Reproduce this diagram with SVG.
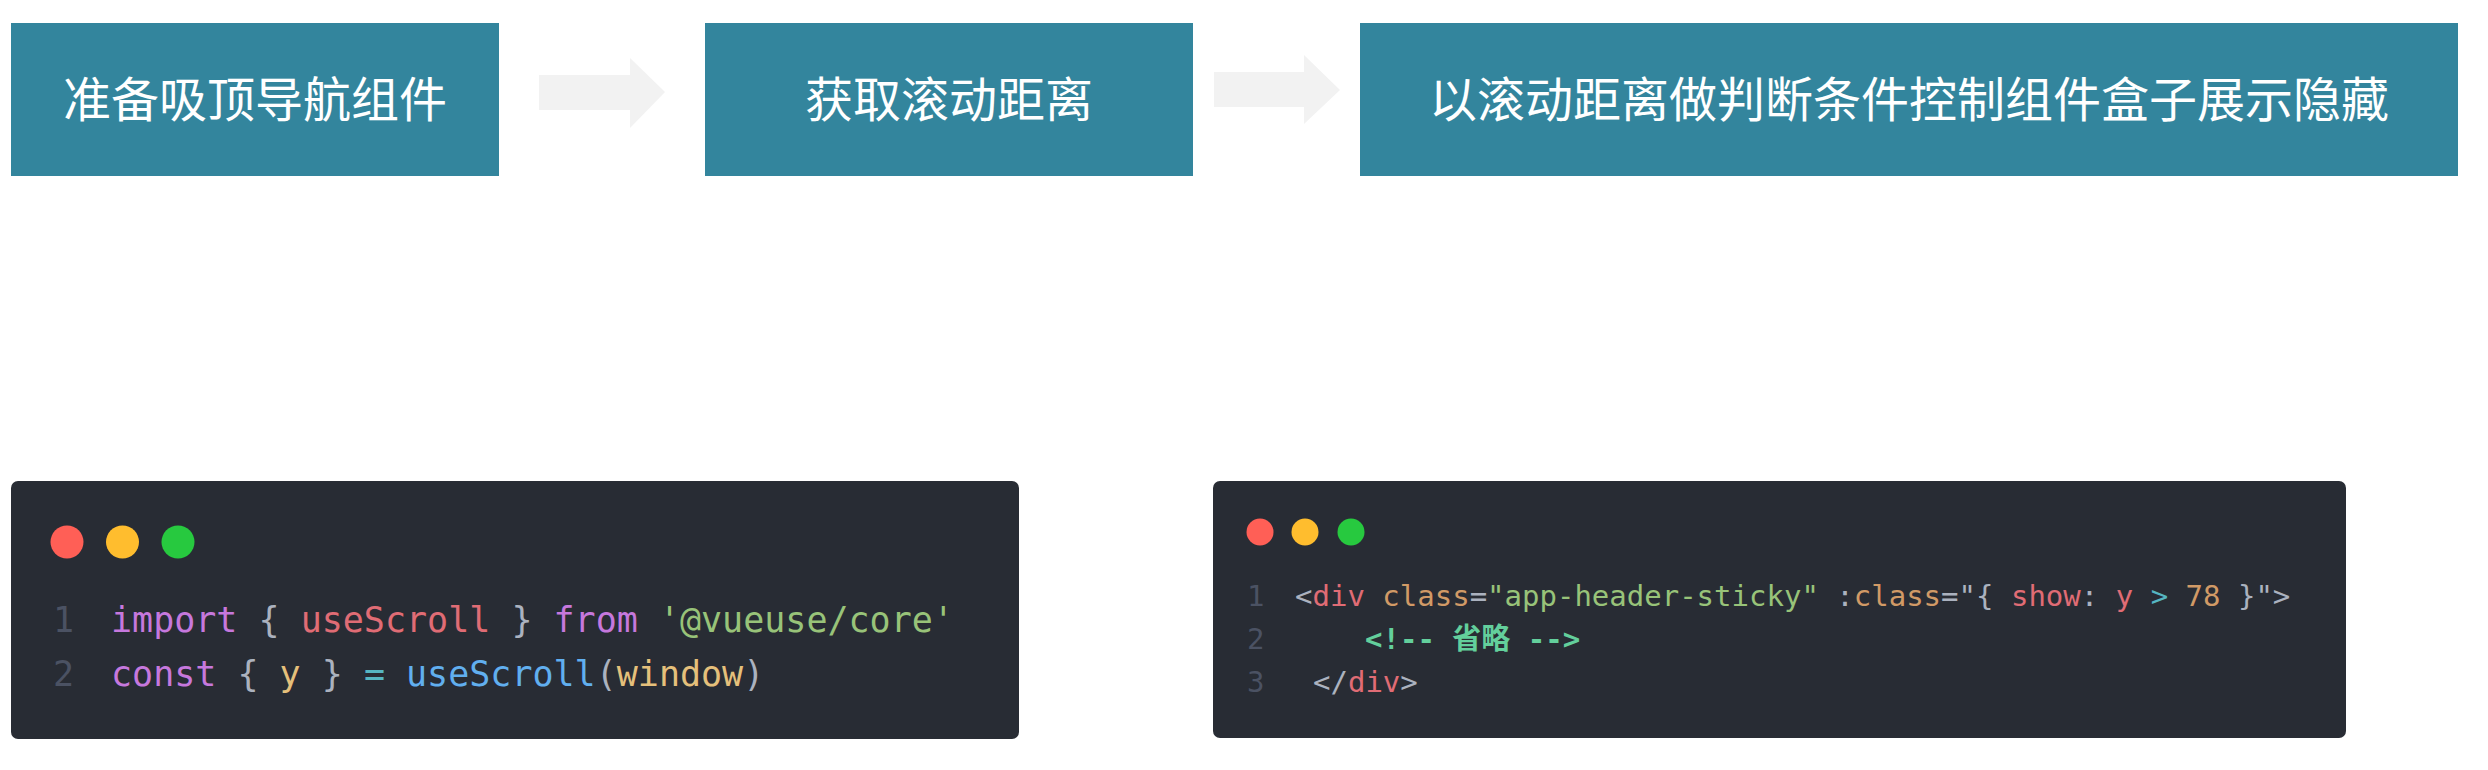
<svg xmlns="http://www.w3.org/2000/svg" width="2488" height="770" viewBox="0 0 2488 770">
<style>
.box{fill:#33859d}
.btxt{fill:#ffffff;font-family:"Noto Sans CJK SC","Noto Sans",sans-serif;font-size:48px;text-anchor:middle;dominant-baseline:central}
.arrow{fill:#f2f2f2}
.panel{fill:#282c34}
.code{font-family:"DejaVu Sans Mono","Noto Sans CJK SC",monospace;white-space:pre}
.c1{font-size:35px}
.c2{font-size:29px}
.ln{fill:#4b5263}
.g{fill:#abb2bf}
.kw{fill:#c678dd}
.rd{fill:#e06c75}
.st{fill:#98c379}
.yl{fill:#e5c07b}
.cy{fill:#56b6c2}
.bl{fill:#61afef}
.or{fill:#d19a66}
.cm{fill:#63cf9c;font-weight:bold}
</style>
<rect width="2488" height="770" fill="#ffffff"/>
<g id="node-prepare">
<rect class="box" x="11" y="23" width="488" height="153"/>
<text class="btxt" x="255" y="96">准备吸顶导航组件</text>
</g>
<g id="node-distance">
<rect class="box" x="705" y="23" width="488" height="153"/>
<text class="btxt" x="949" y="96">获取滚动距离</text>
</g>
<g id="node-control">
<rect class="box" x="1360" y="23" width="1098" height="153"/>
<text class="btxt" x="1909" y="96">以滚动距离做判断条件控制组件盒子展示隐藏</text>
</g>
<g id="connectors">
<polygon class="arrow" points="539,75 630,75 630,58 665,92 630,128 630,110 539,110"/>
<polygon class="arrow" points="1214,72 1304,72 1304,55 1340,90 1304,124 1304,107 1214,107"/>
</g>
<g id="code-js">
<rect class="panel" x="11" y="481" width="1008" height="258" rx="7"/>
<circle cx="67" cy="542" r="16.5" fill="#ff5f56"/>
<circle cx="122.5" cy="542" r="16.5" fill="#ffbd2e"/>
<circle cx="178" cy="542" r="16.5" fill="#27c93f"/>
<text class="code c1 ln" x="53" y="632">1</text>
<text class="code c1 ln" x="53" y="686">2</text>
<text class="code c1" x="111" y="632"><tspan class="kw">import</tspan><tspan class="g"> { </tspan><tspan class="rd">useScroll</tspan><tspan class="g"> } </tspan><tspan class="kw">from</tspan><tspan class="g"> </tspan><tspan class="st">'@vueuse/core'</tspan></text>
<text class="code c1" x="111" y="686"><tspan class="kw">const</tspan><tspan class="g"> { </tspan><tspan class="yl">y</tspan><tspan class="g"> } </tspan><tspan class="cy">=</tspan><tspan class="g"> </tspan><tspan class="bl">useScroll</tspan><tspan class="g">(</tspan><tspan class="yl">window</tspan><tspan class="g">)</tspan></text>
</g>
<g id="code-html">
<rect class="panel" x="1213" y="481" width="1133" height="257" rx="7"/>
<circle cx="1260" cy="532" r="13.5" fill="#ff5f56"/>
<circle cx="1305" cy="532" r="13.5" fill="#ffbd2e"/>
<circle cx="1351" cy="532" r="13.5" fill="#27c93f"/>
<text class="code c2 ln" x="1247" y="606">1</text>
<text class="code c2 ln" x="1247" y="649">2</text>
<text class="code c2 ln" x="1247" y="692">3</text>
<text class="code c2" x="1295" y="606"><tspan class="g">&lt;</tspan><tspan class="rd">div</tspan><tspan class="g"> </tspan><tspan class="or">class</tspan><tspan class="g">=</tspan><tspan class="st">"app-header-sticky"</tspan><tspan class="g"> :</tspan><tspan class="or">class</tspan><tspan class="g">="{ </tspan><tspan class="rd">show</tspan><tspan class="g">: </tspan><tspan class="rd">y</tspan><tspan class="g"> </tspan><tspan class="cy">&gt;</tspan><tspan class="g"> </tspan><tspan class="or">78</tspan><tspan class="g"> }"&gt;</tspan></text>
<text class="code c2 cm" x="1365" y="649">&lt;!-- 省略 --&gt;</text>
<text class="code c2" x="1313" y="692"><tspan class="g">&lt;/</tspan><tspan class="rd">div</tspan><tspan class="g">&gt;</tspan></text>
</g>
</svg>
